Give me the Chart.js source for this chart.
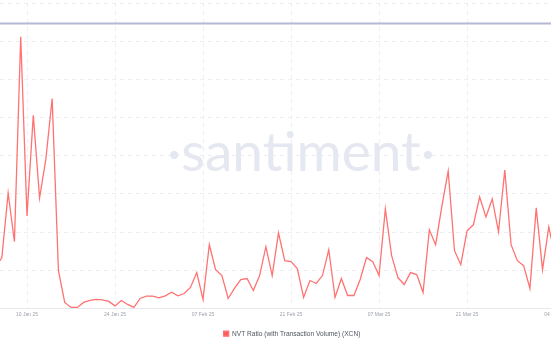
<!DOCTYPE html>
<html>
<head>
<meta charset="utf-8">
<script src="https://cdn.jsdelivr.net/npm/chart.js@4.4.1/dist/chart.umd.min.js"></script>
<style>
  html, body { margin: 0; padding: 0; background: #fff; overflow: hidden; }
  body { width: 551px; height: 347px; position: relative; }
  /* canvas is wider than the window: the y axis sits off to the left
     and the last date tick runs off the right edge, as in the crop */
  #wrap { position: absolute; left: -60px; top: 0; width: 644px; height: 347px; }
</style>
</head>
<body>
<div id="wrap"><canvas id="chart"></canvas></div>
<script>
// day numbers counted from 1 Jan 2025 (0 = 1 Jan)
const startDay = 4;
const nvtValues = [
  5.47, 6.65, 15.11, 8.73, 35.57, 12.12, 25.28, 14.46, 19.55, 27.49,
  4.95, 0.78, 0.13, 0.13, 0.78, 1.04, 1.17, 1.11, 0.91, 0.33,
  1.04, 0.52, 0.13, 1.30, 1.60, 1.60, 1.37, 1.65, 2.12, 1.65,
  1.95, 2.74, 4.69, 1.17, 8.34, 5.08, 4.30, 1.30, 2.61, 3.78,
  3.91, 2.35, 4.30, 8.08, 4.30, 9.90, 6.25, 6.12, 5.21, 1.43,
  3.65, 3.26, 4.30, 7.69, 1.43, 3.91, 1.69, 1.69, 3.78, 6.65,
  6.12, 4.30, 13.03, 6.91, 4.04, 3.13, 4.69, 4.43, 2.08, 10.29,
  8.34, 13.42, 17.98, 7.56, 5.73, 10.16, 10.95, 14.59, 11.99, 14.33,
  10.03, 18.11, 8.34, 6.25, 5.60, 2.61, 13.16, 5.08, 10.68, 6.78
];
const refLevel = 37.3;

const tickDays = [9, 23, 37, 51, 65, 79, 93];
const tickLabels = ['10 Jan 25', '24 Jan 25', '07 Feb 25', '21 Feb 25', '07 Mar 25', '21 Mar 25', '04 Apr 25'];

const xMin = 4.705;
const xMax = 97.6;

const points = nvtValues.map((v, i) => ({ x: startDay + i, y: v }));

// faint brand watermark behind the line
const watermark = {
  id: 'watermark',
  beforeDatasetsDraw(chart) {
    const { ctx, chartArea } = chart;
    ctx.save();
    ctx.fillStyle = '#e6e8f1';
    ctx.font = '400 55px Lato, "Open Sans", sans-serif';
    ctx.textAlign = 'center';
    ctx.textBaseline = 'alphabetic';
    ctx.fillText('·santiment·', chartArea.left + 301, 171);
    ctx.restore();
  },
};

new Chart(document.getElementById('chart'), {
  type: 'line',
  data: {
    datasets: [
      {
        label: 'NVT Ratio (with Transaction Volume) (XCN)',
        data: points,
        borderColor: '#ff7272',
        backgroundColor: '#ff5a5a',
        borderWidth: 1.3,
        pointRadius: 0,
        tension: 0,
      },
      {
        label: 'ref',
        data: [{ x: xMin, y: refLevel }, { x: xMax, y: refLevel }],
        borderColor: '#b5b8d5',
        borderWidth: 2,
        pointRadius: 0,
      },
    ],
  },
  options: {
    responsive: true,
    maintainAspectRatio: false,
    animation: false,
    layout: { padding: { left: 60, right: 0, top: 3, bottom: 0 } },
    plugins: {
      tooltip: { enabled: false },
      legend: {
        position: 'bottom',
        labels: {
          filter: (item) => item.datasetIndex === 0,
          boxWidth: 5,
          boxHeight: 5,
          padding: 10,
          color: '#50555f',
          font: { size: 6.6, family: 'Arial, "Liberation Sans", sans-serif' },
        },
      },
    },
    scales: {
      x: {
        type: 'linear',
        min: xMin,
        max: xMax,
        afterBuildTicks: (scale) => {
          scale.ticks = tickDays.map((v) => ({ value: v }));
        },
        grid: { color: '#eceef3', drawTicks: false },
        border: { display: true, color: '#e6e8ee', dash: [4, 4] },
        ticks: {
          autoSkip: false,
          maxRotation: 0,
          padding: 3,
          color: '#9da2ad',
          font: { size: 5, family: 'Arial, "Liberation Sans", sans-serif' },
          callback: (value) => tickLabels[tickDays.indexOf(value)] || '',
        },
      },
      y: {
        min: 0,
        max: 40,
        afterBuildTicks: (scale) => {
          const t = [];
          for (let v = 0; v <= 40; v += 5) t.push({ value: v });
          scale.ticks = t;
        },
        grid: { color: '#eceef3', drawTicks: false },
        border: { display: false, dash: [4, 4] },
        ticks: { display: false, padding: 0 },
      },
    },
  },
  plugins: [watermark],
});
</script>
</body>
</html>
